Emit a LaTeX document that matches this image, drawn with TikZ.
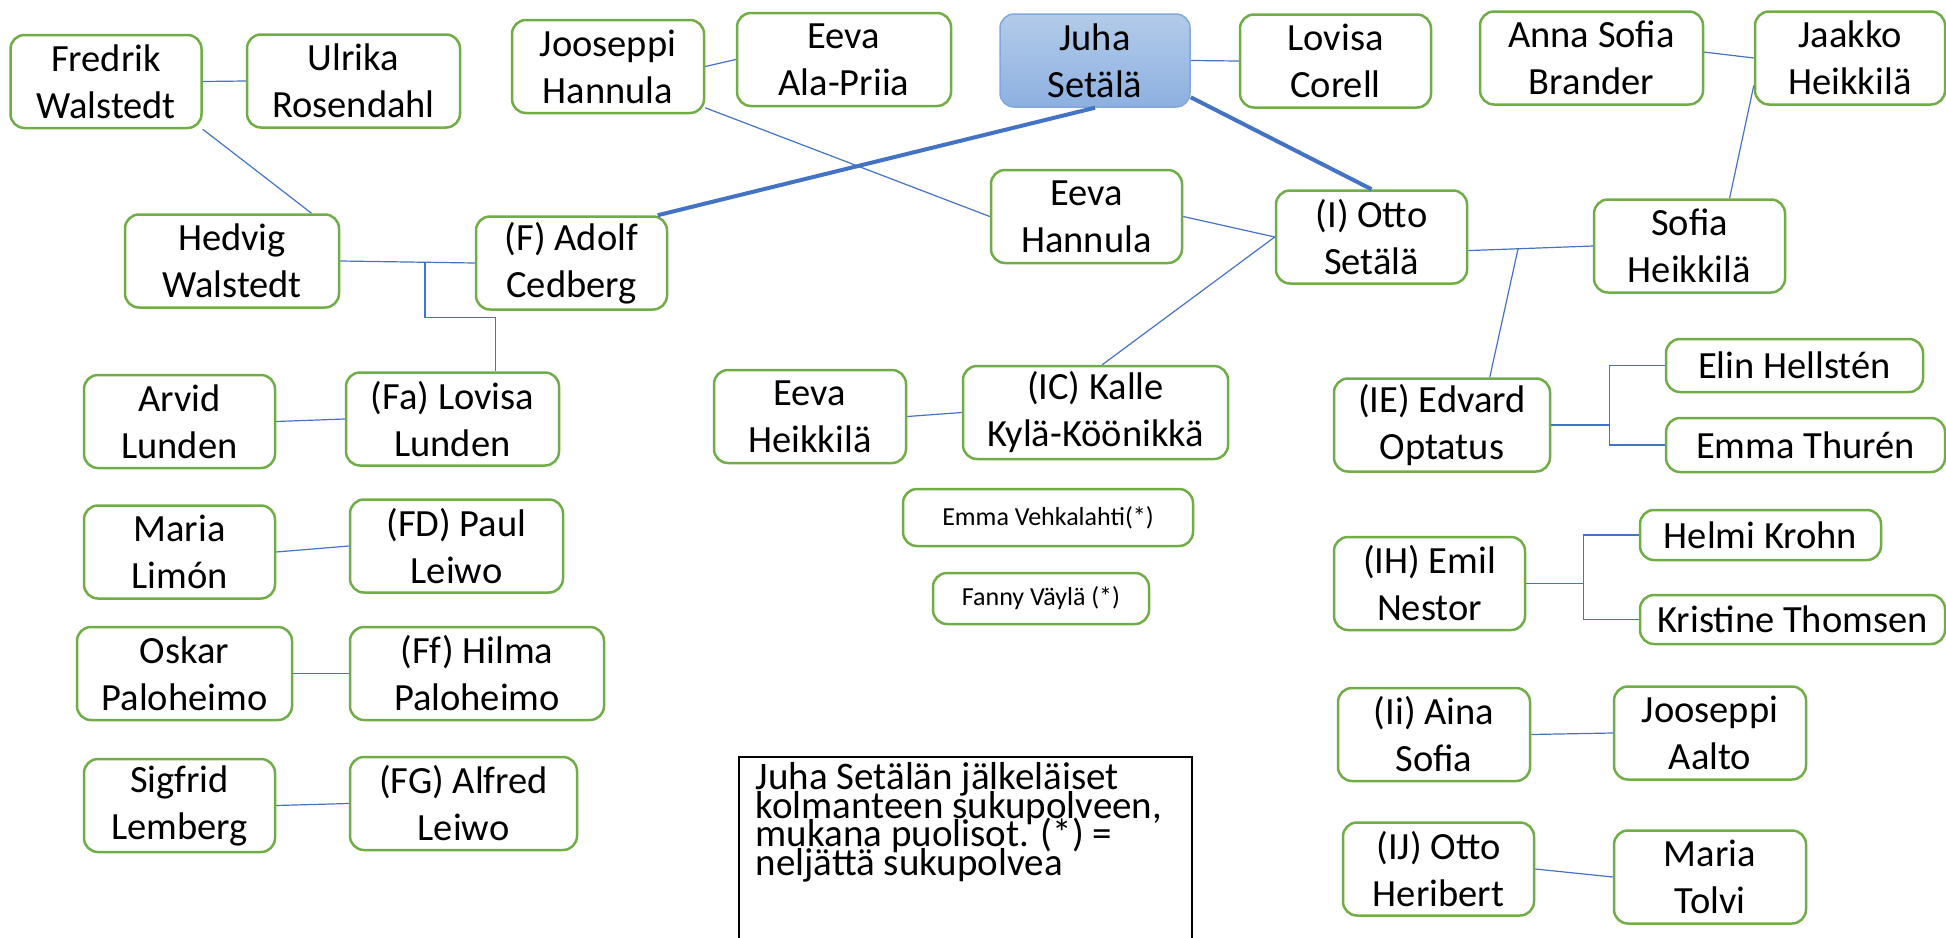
\documentclass[tikz,border=0pt]{standalone}
\usepackage{fontspec}
\setmainfont{Carlito}
\usepackage{tikz}
\usetikzlibrary{calc}
\definecolor{boxgreen}{HTML}{70AD47}
\definecolor{linkblue}{HTML}{4472C4}
\definecolor{juhatop}{HTML}{B3CBEA}
\definecolor{juhabottom}{HTML}{8DB0E0}
\definecolor{juhaline}{HTML}{80A8DA}

\begin{document}
\begin{tikzpicture}[x=1pt,y=-1pt,
    person/.style={draw=boxgreen,line width=2.5pt,rounded corners=14pt,align=center,
      inner sep=0pt,minimum width=191pt,minimum height=93pt,
      font=\fontsize{38.5}{47}\selectfont},
    smallbox/.style={person,font=\fontsize{26}{31}\selectfont},
    thinlink/.style={draw=linkblue,line width=1.2pt},
    mainlink/.style={draw=linkblue,line width=4pt}]
    \useasboundingbox (0,0) rectangle (1946,937);

    \node[person] (fredrik) at (106,81.5) {Fredrik\\Walstedt};
    \node[person,minimum width=213pt] (ulrika) at (353.5,81) {Ulrika\\Rosendahl};
    \node[person,minimum width=192pt] (jooseppiH) at (608,66.5) {Jooseppi\\Hannula};
    \node[person,minimum width=214pt] (eevaAP) at (844,59.5) {Eeva\\Ala-Priia};
    \node[person,minimum width=190pt,draw=juhaline,line width=1.5pt,
      top color=juhatop,bottom color=juhabottom] (juha) at (1095,60.5) {Juha\\Setälä};
    \node[person] (lovisaC) at (1335.5,61) {Lovisa\\Corell};
    \node[person,minimum width=223pt] (annaS) at (1591.5,58) {Anna Sofia\\Brander};
    \node[person,minimum width=190pt] (jaakko) at (1850,58) {Jaakko\\Heikkilä};

    \node[person,minimum width=214pt] (hedvig) at (232,261) {Hedvig\\Walstedt};
    \node[person] (adolf) at (571.5,263) {(F) Adolf\\Cedberg};
    \node[person] (eevaH) at (1086.5,216.5) {Eeva\\Hannula};
    \node[person] (otto) at (1371.5,237) {(I) Otto\\Setälä};
    \node[person] (sofiaH) at (1689.5,246) {Sofia\\Heikkilä};

    \node[person] (arvid) at (179.5,421.5) {Arvid\\Lunden};
    \node[person,minimum width=213pt] (lovisaL) at (452.5,419) {(Fa) Lovisa\\Lunden};
    \node[person,minimum width=192pt] (eevaHk) at (810,416.5) {Eeva\\Heikkilä};
    \node[person,minimum width=265pt] (kalle) at (1095.5,412.5) {(IC) Kalle\\Kylä-Köönikkä};
    \node[person,minimum width=216pt] (edvard) at (1442,425) {(IE) Edvard\\Optatus};
    \node[person,minimum width=257pt,minimum height=53pt] (elin) at (1794.5,365.5) {Elin Hellstén};
    \node[person,minimum width=279pt,minimum height=54pt] (emmaT) at (1805.5,445) {Emma Thurén};

    \node[person] (mariaL) at (179.5,552) {Maria\\Limón};
    \node[person,minimum width=213pt] (paul) at (456.5,546) {(FD) Paul\\Leiwo};
    \node[smallbox,minimum width=290pt,minimum height=57pt] (emmaV) at (1048,517.5) {Emma Vehkalahti(*)};
    \node[smallbox,minimum width=216pt,minimum height=51pt] (fanny) at (1041,598.5) {Fanny Väylä (*)};
    \node[person] (emil) at (1429.5,583.5) {(IH) Emil\\Nestor};
    \node[person,minimum width=241pt,minimum height=50pt] (helmi) at (1760.5,535) {Helmi Krohn};
    \node[person,minimum width=305pt,minimum height=49pt] (kristine) at (1792.5,619.5) {Kristine Thomsen};

    \node[person,minimum width=215pt] (oskar) at (184.5,673.5) {Oskar\\Paloheimo};
    \node[person,minimum width=254pt] (hilma) at (477,673.5) {(Ff) Hilma\\Paloheimo};
    \node[person] (sigfrid) at (179.5,805.5) {Sigfrid\\Lemberg};
    \node[person,minimum width=227pt] (alfred) at (463.5,803.5) {(FG) Alfred\\Leiwo};
    \node[person,minimum width=192pt] (aina) at (1434,734.5) {(Ii) Aina\\Sofia};
    \node[person,minimum width=192pt] (jooseppiA) at (1710,733) {Jooseppi\\Aalto};
    \node[person] (ottoH) at (1438.5,869) {(IJ) Otto\\Heribert};
    \node[person,minimum width=192pt] (mariaT) at (1710,877) {Maria\\Tolvi};

    \node[draw,line width=1.5pt,anchor=north west,inner sep=0pt] (note) at (738,756)
      {\parbox[t][200pt][t]{453pt}{\fontsize{39}{28.5}\selectfont\lineskiplimit=-100pt
        \raggedright\leftskip=17pt
        \rule{0pt}{33pt}Juha Setälän jälkeläiset\\kolmanteen sukupolveen,\\
        mukana puolisot. (*) =\\neljättä sukupolvea}};

    \draw[thinlink] (fredrik.east) -- (ulrika.west);
    \draw[thinlink] (fredrik.south east) -- (hedvig.31);
    \draw[thinlink] (hedvig.east) -- (adolf.west);
    \draw[thinlink] ($(hedvig.east)!0.63!(adolf.west)$) -- ++(0,55) -| (lovisaL.48);
    \draw[thinlink] (jooseppiH.east) -- (eevaAP.west);
    \draw[thinlink] (jooseppiH.-23) -- (eevaH.west);
    \draw[thinlink] (juha.east) -- (lovisaC.west);
    \draw[mainlink] (juha.south) -- (adolf.29);
    \draw[mainlink] (juha.-21) -- (otto.north);
    \draw[thinlink] (eevaH.east) -- (otto.west);
    \draw[thinlink] (otto.west) -- (kalle.82);
    \draw[thinlink] (otto.-8) -- (sofiaH.west);
    \draw[thinlink] ($(otto.-8)!0.4!(sofiaH.west)$) -- (edvard.45);
    \draw[thinlink] (sofiaH.50) -- (jaakko.196);
    \draw[thinlink] (annaS.3) -- (jaakko.west);
    \draw[thinlink] (edvard.east) -- ++(58,0);
    \draw[thinlink] (elin.west) -| ($(edvard.east)+(58,0)$) |- (emmaT.west);
    \draw[thinlink] (emil.east) -- ++(57,0);
    \draw[thinlink] (helmi.west) -| ($(emil.east)+(57,0)$) |- (kristine.west);
    \draw[thinlink] (aina.east) -- (jooseppiA.west);
    \draw[thinlink] (ottoH.east) -- (mariaT.west);
    \draw[thinlink] (arvid.east) -- (lovisaL.west);
    \draw[thinlink] (mariaL.east) -- (paul.west);
    \draw[thinlink] (oskar.east) -- (hilma.west);
    \draw[thinlink] (sigfrid.east) -- (alfred.west);
    \draw[thinlink] (eevaHk.east) -- (kalle.west);
\end{tikzpicture}
\end{document}
